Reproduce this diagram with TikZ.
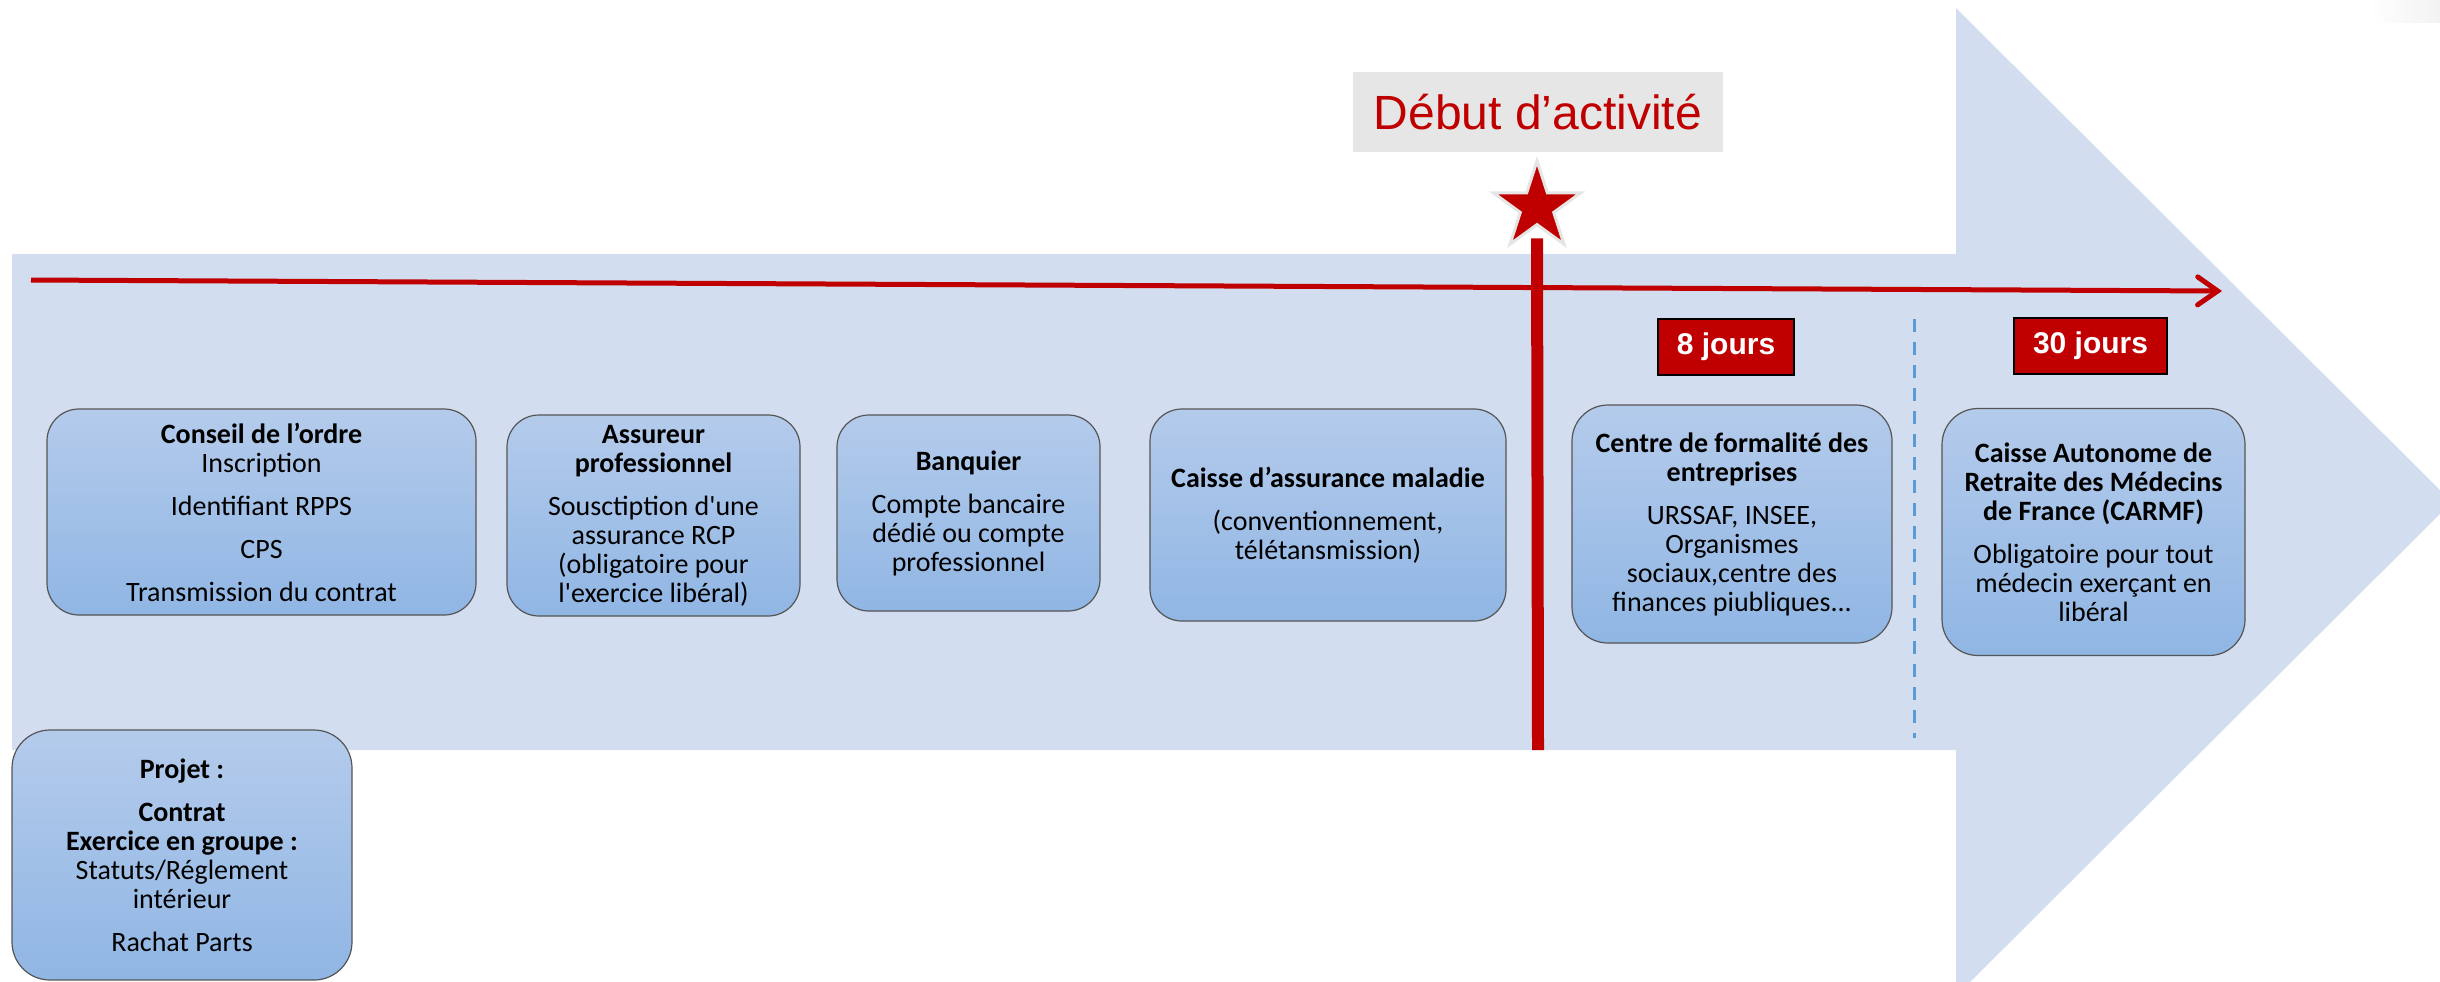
\documentclass[tikz,border=0pt]{standalone}
\usepackage{fontspec}
\setmainfont{Carlito}[Ligatures=TeXOff]
\newfontfamily\arialfont{Liberation Sans}
\usetikzlibrary{arrows.meta,shapes.geometric}

\definecolor{arrowbg}{RGB}{210,222,239}
\definecolor{boxtop}{RGB}{180,203,235}
\definecolor{boxbottom}{RGB}{144,182,228}
\definecolor{boxline}{RGB}{85,85,85}
\definecolor{darkred}{RGB}{192,0,0}
\definecolor{labelgray}{RGB}{230,230,230}
\definecolor{dashblue}{RGB}{91,155,213}

\begin{document}
\begin{tikzpicture}[x=0.5pt, y=-0.5pt, >=Stealth]

    \tikzset{%
    organisme/.style={
        draw=boxline,
        line width=0.6pt,
        rounded corners=16pt,
        top color=boxtop,
        bottom color=boxbottom,
        align=center,
        inner sep=2pt,
        font=\fontsize{14}{14.5}\selectfont
        },
    delai/.style={
        fill=darkred,
        draw=black,
        line width=1.4pt,
        text=white,
        inner sep=0pt,
        minimum height=28pt,
        font=\arialfont\bfseries\fontsize{15}{16}\selectfont
        },
    }

    \useasboundingbox (0,0) rectangle (2440,981);
    \clip (0,0) rectangle (2440,981);

    % Big background arrow
    \fill [arrowbg] (12,254) -- (1956,254) -- (1956,8) -- (2452,502)
        -- (1956,996) -- (1956,750) -- (12,750) -- cycle;
    \shade [left color=white, right color=red!3!black!5] (2370,0) rectangle (2440,22);

    % Time line
    \coordinate (tl-start) at (31,280);
    \coordinate (tl-end) at (2222,291);
    \draw [darkred, line width=2.5pt, -{Straight Barb[length=10pt, width=14pt, line cap=round]}]
        (tl-start) -- (tl-end);

    % Start of activity
    \node [fill=labelgray, minimum width=185pt, minimum height=40pt, inner sep=0pt,
        text=darkred, font=\arialfont\fontsize{24}{26}\selectfont] (debut) at (1538,112) {Début d’activité};
    \node [star, star points=5, star point ratio=2.618, minimum size=46pt, inner sep=0pt,
        fill=darkred, draw=black!10, line width=1.5pt] (etoile) at (1537,207) {};
    \coordinate (debut-bas) at (1538,750);
    \draw [darkred, line width=6pt, shorten <=6pt] (etoile.south) -- (debut-bas);

    % Separator between delays
    \coordinate (sep-haut) at (1914,319);
    \coordinate (sep-bas) at (1914,738);
    \draw [dashblue, line width=1.5pt, dash pattern=on 6.5pt off 5pt] (sep-haut) -- (sep-bas);

    % Delay labels
    \node [delai, minimum width=68pt] (huit) at (1726,347) {8 jours};
    \node [delai, minimum width=76.5pt] (trente) at (2090.5,346) {30 jours};

    % Organismes
    \node [organisme, minimum width=214.5pt, minimum height=103pt] (ordre) at (261.5,512)
        {\textbf{Conseil de l’ordre}\\Inscription\\[7pt]Identifiant RPPS\\[7pt]CPS\\[7pt]Transmission du contrat};
    \node [organisme, minimum width=146.5pt, minimum height=100.5pt] (assureur) at (653.5,515.5)
        {\textbf{Assureur}\\\textbf{professionnel}\\[7pt]Sousctiption d'une\\assurance RCP\\(obligatoire pour\\l'exercice libéral)};
    \node [organisme, minimum width=131.5pt, minimum height=98pt] (banquier) at (968.5,513)
        {\textbf{Banquier}\\[7pt]Compte bancaire\\dédié ou compte\\professionnel};
    \node [organisme, minimum width=178pt, minimum height=106pt] (maladie) at (1328,515)
        {\textbf{Caisse d’assurance maladie}\\[7pt](conventionnement,\\télétansmission)};
    \node [organisme, rounded corners=18pt, minimum width=160pt, minimum height=119pt] (cfe) at (1732,524)
        {\textbf{Centre de formalité des}\\\textbf{entreprises}\\[7pt]URSSAF, INSEE,\\Organismes\\sociaux,centre des\\finances piubliques...};
    \node [organisme, rounded corners=18pt, minimum width=151.5pt, minimum height=123.5pt] (carmf) at (2093.5,532)
        {\textbf{Caisse Autonome de}\\\textbf{Retraite des Médecins}\\\textbf{de France (CARMF)}\\[7pt]Obligatoire pour tout\\médecin exerçant en\\libéral};
    \node [organisme, rounded corners=19pt, minimum width=170pt, minimum height=125pt] (projet) at (182,855)
        {\textbf{Projet :}\\[7pt]\textbf{Contrat}\\\textbf{Exercice en groupe :}\\Statuts/Réglement\\intérieur\\[7pt]Rachat Parts};

\end{tikzpicture}
\end{document}
